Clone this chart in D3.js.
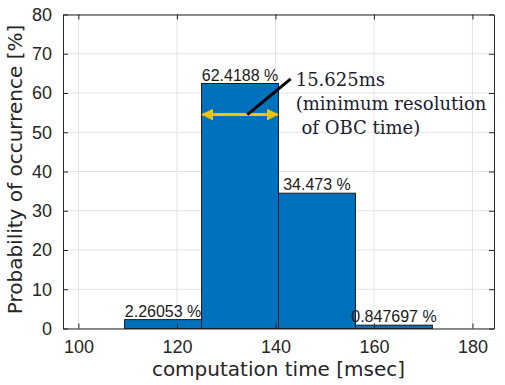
<!DOCTYPE html>
<html>
<head>
<meta charset="utf-8">
<script src="https://cdn.jsdelivr.net/npm/d3@7"></script>
<style>
  body { margin: 0; background: #fff; }
</style>
</head>
<body>
<script>
// Histogram data
var binEdges = [109.375, 125, 140.625, 156.25, 171.875];
var binValues = [2.26053, 62.4188, 34.473, 0.847697];
var binLabels = ["2.26053 %", "62.4188 %", "34.473 %", "0.847697 %"];

var xTicks = [100, 120, 140, 160, 180];
var yTicks = [0, 10, 20, 30, 40, 50, 60, 70, 80];

// annotation (data coordinates)
var arrowX = [125, 140.625];
var arrowY = 54.5;
var leaderX = [134.3, 143.1];
var leaderY = [54.5, 63.6];
var noteLines = ["15.625ms", "(minimum resolution", " of OBC time)"];

var svgWidth = 505;
var svgHeight = 385;

var svg = d3.select("body")
  .append("svg")
  .attr("width", svgWidth)
  .attr("height", svgHeight);

svg.append("rect")
  .attr("width", svgWidth)
  .attr("height", svgHeight)
  .attr("fill", "#fff");

var xScale = d3.scaleLinear()
  .domain([96.875, 184.375])
  .range([63, 494]);

var yScale = d3.scaleLinear()
  .domain([0, 80])
  .range([328.5, 14.5]);

var x0 = xScale.range()[0], x1 = xScale.range()[1];
var y0 = yScale.range()[0], y1 = yScale.range()[1];

// Grid
svg.append("g").selectAll("line")
  .data(xTicks)
  .enter()
  .append("line")
  .attr("x1", d => xScale(d)).attr("x2", d => xScale(d))
  .attr("y1", y0).attr("y2", y1)
  .attr("stroke", "#e3e3e3")
  .attr("stroke-width", 1);

svg.append("g").selectAll("line")
  .data(yTicks)
  .enter()
  .append("line")
  .attr("x1", x0).attr("x2", x1)
  .attr("y1", d => yScale(d)).attr("y2", d => yScale(d))
  .attr("stroke", "#e3e3e3")
  .attr("stroke-width", 1);

// Bars
var bins = binValues.map((v, i) => ({ x0: binEdges[i], x1: binEdges[i + 1], v: v, label: binLabels[i] }));

svg.append("g").selectAll("rect")
  .data(bins)
  .enter()
  .append("rect")
  .attr("x", d => xScale(d.x0))
  .attr("y", d => yScale(d.v))
  .attr("width", d => xScale(d.x1) - xScale(d.x0))
  .attr("height", d => yScale(0) - yScale(d.v))
  .attr("fill", "#0072bd")
  .attr("stroke", "#1a1a1a")
  .attr("stroke-width", 1);

// Axes (box with inward ticks)
var axBottom = svg.append("g")
  .attr("transform", `translate(0, ${y0})`)
  .call(d3.axisBottom(xScale).tickValues(xTicks).tickSizeInner(-5).tickSizeOuter(0).tickPadding(12));
var axTop = svg.append("g")
  .attr("transform", `translate(0, ${y1})`)
  .call(d3.axisTop(xScale).tickValues(xTicks).tickSizeInner(-5).tickSizeOuter(0).tickFormat(""));
var axLeft = svg.append("g")
  .attr("transform", `translate(${x0}, 0)`)
  .call(d3.axisLeft(yScale).tickValues(yTicks).tickSizeInner(-5).tickSizeOuter(0).tickPadding(11));
var axRight = svg.append("g")
  .attr("transform", `translate(${x1}, 0)`)
  .call(d3.axisRight(yScale).tickValues(yTicks).tickSizeInner(-5).tickSizeOuter(0).tickFormat(""));

[axBottom, axTop, axLeft, axRight].forEach(function(g) {
  g.select(".domain").attr("stroke", "#262626");
  g.selectAll(".tick line").attr("stroke", "#262626");
  g.selectAll(".tick text")
    .attr("fill", "#262626")
    .style("font-family", "'Liberation Sans', Arial, sans-serif")
    .style("font-size", "18px");
});

// Bar labels
svg.append("g").selectAll("text")
  .data(bins)
  .enter()
  .append("text")
  .attr("x", d => xScale((d.x0 + d.x1) / 2))
  .attr("y", d => yScale(d.v) - 3)
  .attr("text-anchor", "middle")
  .style("font-family", "'Liberation Sans', Arial, sans-serif")
  .style("font-size", "16px")
  .attr("fill", "#1a1a1a")
  .text(d => d.label);

// Axis labels
svg.append("text")
  .attr("x", (x0 + x1) / 2)
  .attr("y", 376)
  .attr("text-anchor", "middle")
  .style("font-family", "'DejaVu Sans', sans-serif")
  .style("font-size", "20px")
  .attr("fill", "#262626")
  .text("computation time [msec]");

svg.append("text")
  .attr("transform", `translate(22, ${(y0 + y1) / 2 - 2}) rotate(-90)`)
  .attr("text-anchor", "middle")
  .style("font-family", "'DejaVu Sans', sans-serif")
  .style("font-size", "20px")
  .attr("fill", "#262626")
  .text("Probability of occurrence [%]");

// Annotation: double arrow over the bin width
var defs = svg.append("defs");
defs.append("marker")
  .attr("id", "head")
  .attr("viewBox", "0 0 10 10")
  .attr("refX", 9).attr("refY", 5)
  .attr("markerWidth", 4).attr("markerHeight", 4)
  .attr("orient", "auto-start-reverse")
  .attr("markerUnits", "strokeWidth")
  .append("path")
  .attr("d", "M0,0 L10,5 L0,10 Z")
  .attr("fill", "#ffc000");

svg.append("line")
  .attr("x1", xScale(arrowX[0]) + 1).attr("x2", xScale(arrowX[1]) - 1)
  .attr("y1", yScale(arrowY)).attr("y2", yScale(arrowY))
  .attr("stroke", "#ffc000")
  .attr("stroke-width", 3)
  .attr("marker-start", "url(#head)")
  .attr("marker-end", "url(#head)");

svg.append("line")
  .attr("x1", xScale(leaderX[0])).attr("x2", xScale(leaderX[1]))
  .attr("y1", yScale(leaderY[0])).attr("y2", yScale(leaderY[1]))
  .attr("stroke", "#000")
  .attr("stroke-width", 3);

var note = svg.append("text")
  .attr("x", xScale(leaderX[1]) + 5)
  .attr("y", 86)
  .style("font-family", "'DejaVu Serif', serif")
  .style("font-size", "18px")
  .style("white-space", "pre")
  .attr("fill", "#1c1c30");

note.selectAll("tspan")
  .data(noteLines)
  .enter()
  .append("tspan")
  .attr("x", xScale(leaderX[1]) + 5)
  .attr("dy", (d, i) => i === 0 ? 0 : 24)
  .text(d => d);
</script>
</body>
</html>
